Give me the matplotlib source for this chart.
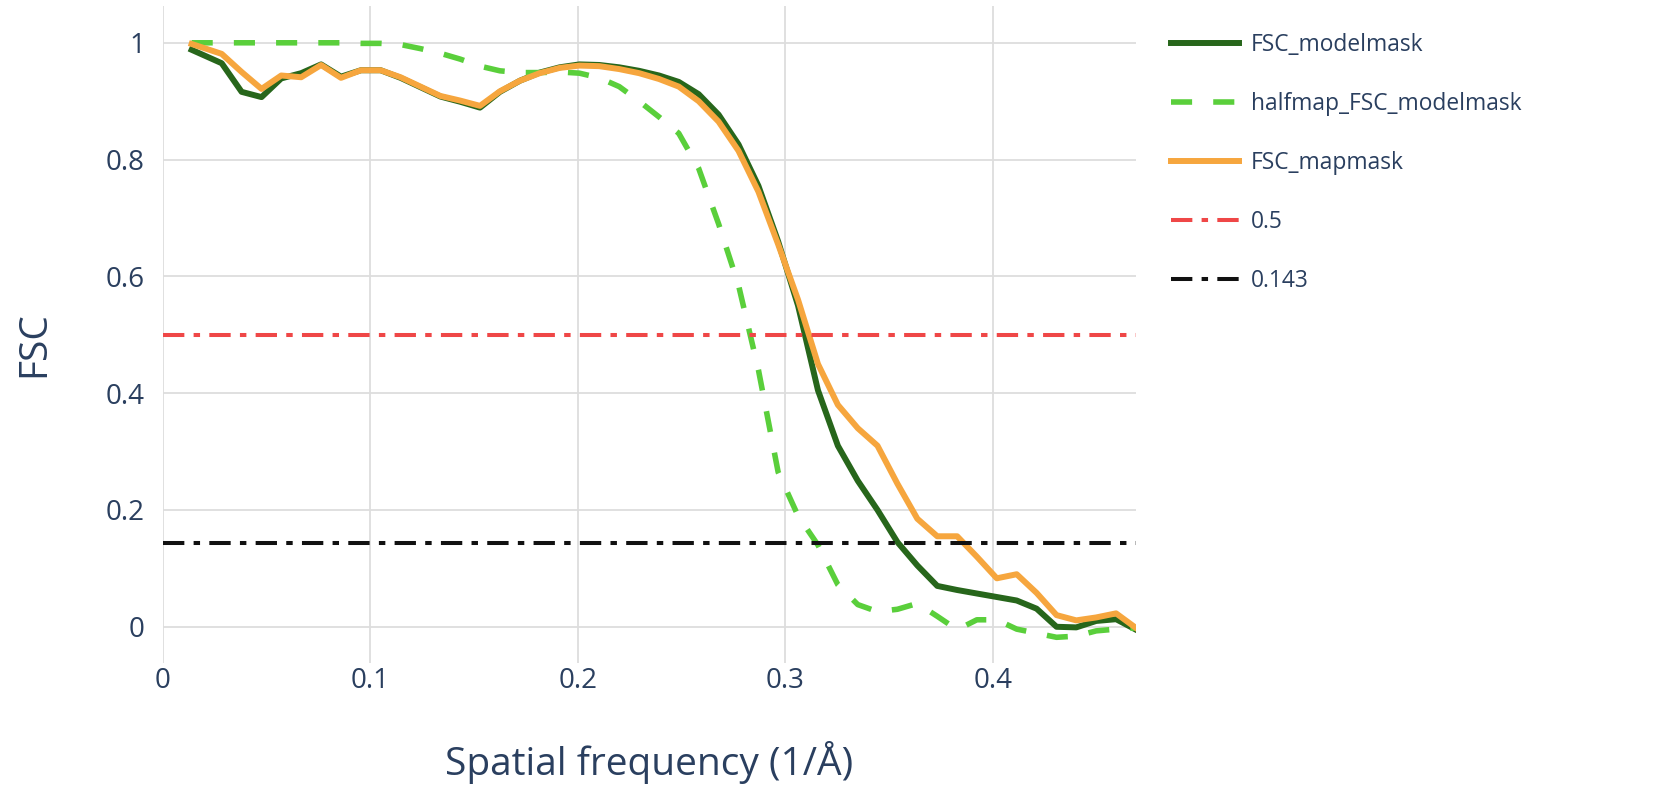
import matplotlib
matplotlib.use("Agg")
import matplotlib.pyplot as plt
from matplotlib.ticker import FixedLocator, FixedFormatter

# spatial frequency samples (1/Å)
freq = [0.0138, 0.0283, 0.0379, 0.0475, 0.0570, 0.0666, 0.0762, 0.0858, 0.0954, 0.1049,
        0.1145, 0.1241, 0.1337, 0.1433, 0.1528, 0.1624, 0.1720, 0.1816, 0.1912, 0.2007,
        0.2103, 0.2199, 0.2295, 0.2391, 0.2486, 0.2582, 0.2678, 0.2774, 0.2870, 0.2965,
        0.3061, 0.3157, 0.3253, 0.3349, 0.3444, 0.3540, 0.3636, 0.3732, 0.3828, 0.3923,
        0.4019, 0.4115, 0.4211, 0.4307, 0.4402, 0.4498, 0.4594, 0.4690]

fsc_modelmask = [0.988, 0.965, 0.916, 0.907, 0.939, 0.948, 0.963, 0.942, 0.953, 0.953,
                 0.940, 0.924, 0.908, 0.899, 0.889, 0.916, 0.935, 0.949, 0.958, 0.963,
                 0.962, 0.958, 0.952, 0.944, 0.933, 0.912, 0.877, 0.826, 0.755, 0.660,
                 0.550, 0.405, 0.310, 0.250, 0.200, 0.145, 0.105, 0.070, 0.063, 0.057,
                 0.051, 0.045, 0.031, 0.000, -0.001, 0.010, 0.013, -0.005]

halfmap_fsc_modelmask = [1.000, 1.000, 1.000, 1.000, 1.000, 1.000, 1.000, 1.000, 0.999, 0.999,
                         0.997, 0.990, 0.982, 0.972, 0.960, 0.952, 0.949, 0.949, 0.950, 0.948,
                         0.940, 0.925, 0.900, 0.873, 0.845, 0.785, 0.690, 0.585, 0.440, 0.265,
                         0.190, 0.140, 0.072, 0.038, 0.026, 0.030, 0.040, 0.018, -0.005, 0.012,
                         0.012, -0.004, -0.011, -0.018, -0.016, -0.007, -0.004, -0.002]

fsc_mapmask = [0.998, 0.981, 0.950, 0.921, 0.944, 0.941, 0.962, 0.940, 0.953, 0.953,
               0.941, 0.925, 0.909, 0.901, 0.892, 0.917, 0.935, 0.948, 0.957, 0.961,
               0.960, 0.955, 0.948, 0.938, 0.925, 0.900, 0.865, 0.815, 0.745, 0.655,
               0.560, 0.450, 0.380, 0.340, 0.310, 0.245, 0.185, 0.155, 0.155, 0.120,
               0.083, 0.090, 0.058, 0.020, 0.011, 0.016, 0.023, -0.002]

thresholds = [0.5, 0.143]
threshold_names = ["0.5", "0.143"]

xticks = [0, 0.1, 0.2, 0.3, 0.4]
xtick_labels = ["0", "0.1", "0.2", "0.3", "0.4"]
yticks = [0, 0.2, 0.4, 0.6, 0.8, 1.0]
ytick_labels = ["0", "0.2", "0.4", "0.6", "0.8", "1"]

txt = "#2a3f5f"
plt.rcParams["font.family"] = ["Open Sans", "DejaVu Sans"]

W, H = 1662, 788
fig = plt.figure(figsize=(W / 100, H / 100), dpi=100)
L, R, T, B = 163, 1136, 6, 663
ax = fig.add_axes([L / W, 1 - B / H, (R - L) / W, (B - T) / H])

ax.plot(freq, fsc_modelmask, color="#27661b", lw=4.3, label="FSC_modelmask", zorder=3)
ax.plot(freq, halfmap_fsc_modelmask, color="#5acf3b", lw=4.0, dashes=(3.8, 3.8),
        label="halfmap_FSC_modelmask", zorder=3)
ax.plot(freq, fsc_mapmask, color="#f6a63e", lw=4.3, label="FSC_mapmask", zorder=4)
thr_colors = ["#ef4747", "#111111"]
for t, name, c in zip(thresholds, threshold_names, thr_colors):
    ax.plot([0, freq[-1]], [t, t], color=c, lw=2.9, dashes=(5.3, 2.3, 1.6, 2.3),
            label=name, zorder=5)

ax.set_xlim(0, freq[-1])
ax.set_ylim(-0.062, 1.063)
ax.xaxis.set_major_locator(FixedLocator(xticks))
ax.xaxis.set_major_formatter(FixedFormatter(xtick_labels))
ax.yaxis.set_major_locator(FixedLocator(yticks))
ax.yaxis.set_major_formatter(FixedFormatter(ytick_labels))
ax.grid(True, color="#dddddd", lw=1.3, zorder=0)
ax.axhline(0, color="white", lw=2.2, zorder=1)
for s in ax.spines.values():
    s.set_visible(False)
ax.tick_params(length=0, labelsize=20, labelcolor=txt)
ax.tick_params(axis="x", pad=2.6)
ax.tick_params(axis="y", pad=13)

# axis titles
fig.text((L + R) / 2 / W, 1 - 763 / H, "Spatial frequency (1/Å)", fontsize=28,
         color=txt, ha="center", va="center")
fig.text(34 / W, 1 - 344 / H, "FSC", fontsize=28, color=txt,
         rotation=90, ha="center", va="center")

leg = ax.legend(loc="upper left", bbox_to_anchor=(1171 / W, 1 - 33 / H),
                bbox_transform=fig.transFigure, frameon=False, fontsize=16.4,
                handlelength=3.0, handletextpad=0.5, labelspacing=1.54,
                borderpad=0, borderaxespad=0)
for t in leg.get_texts():
    t.set_color(txt)

fig.savefig("out.png", dpi=100, facecolor="white")
